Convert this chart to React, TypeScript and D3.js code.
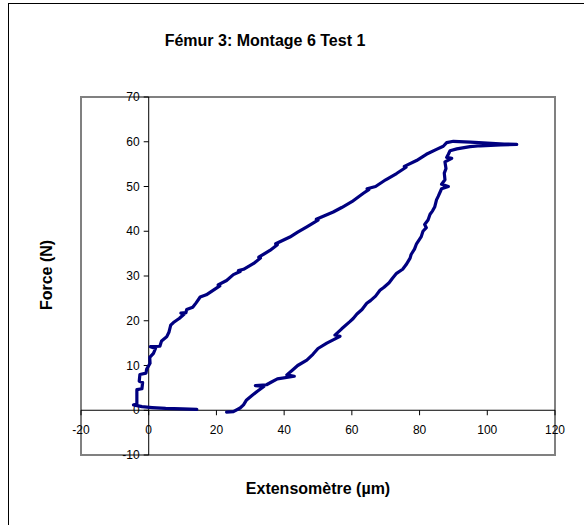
import React from "react";
import * as d3 from "d3";

const title = "Fémur 3: Montage 6 Test 1";
const xTitle = "Extensomètre (µm)";
const yTitle = "Force (N)";
const xTicks = [-20, 0, 20, 40, 60, 80, 100, 120];
const yTicks = [-10, 0, 10, 20, 30, 40, 50, 60, 70];

// Extensometer reading (µm), along the recorded path
const extenso = [
  14.2, 10, 5, 1, -2, -4.5, -3.5, -3.5, -2, -1.8, -2.8, -2.6, -0.8, -0.6, 0.4, 0.3, 1.4, 2, 0.5, 3.3, 3.8,
  5.3, 6, 6.5, 7.3, 9, 10.5, 9.5, 11, 11.2, 13, 14, 15.2, 17, 19, 21, 20.5, 23, 25, 27, 26.5, 28, 31, 33,
  32.5, 35.8, 38, 37.5, 41.7, 44, 46.7, 50, 49.5, 54.5, 57, 60, 63.4, 65, 64.5, 67, 70, 73.2, 76, 75.5,
  79.1, 82, 85, 87, 88, 90, 95, 100, 105, 108.7, 104, 98, 94.9, 91, 89, 88.5, 88, 89.5, 87.5, 87.8, 87.3,
  87.5, 86.5, 88.5, 86.5, 85.5, 85, 84.5, 83.8, 83.1, 82.5, 81.5, 82, 81, 80.5, 79.1, 78.5, 77.5, 77.2, 76,
  75, 73.2, 72, 71, 69.5, 68.3, 67, 65.5, 64.4, 63, 61.5, 60.4, 59.4, 57, 55, 56.5, 52.6, 50, 48.5, 46.7,
  44, 42.5, 40.8, 43, 38, 36, 34.8, 31.5, 34, 32, 30.5, 28.9, 28, 27, 25, 23,
];
// Force (N), same order
const force = [
  0.2, 0.3, 0.4, 0.6, 0.8, 1.2, 1.3, 4.6, 4.8, 6.2, 6.5, 8, 8.3, 9.2, 10.5, 11.8, 12.7, 13.8, 14.2, 14.3, 15.5,
  16.4, 17.5, 19, 19.6, 20.5, 21.5, 21.7, 21.8, 22.5, 23, 24, 25.3, 25.8, 26.8, 27.8, 28, 29, 30.3, 31, 31.2,
  31.5, 32.8, 34, 34.2, 35.7, 37, 37.2, 38.7, 39.8, 41, 42.5, 42.7, 44.3, 45.3, 46.6, 48.5, 49.3, 49.5, 50,
  51.5, 52.9, 54.3, 54.5, 55.8, 57.2, 58.3, 59, 59.8, 60.1, 59.9, 59.7, 59.5, 59.4, 59.3, 59.1, 58.9, 58.4,
  58, 57.2, 56.5, 56.3, 55.5, 54, 53, 51.5, 50.5, 50, 49.5, 47.8, 47, 45.5, 44.5, 43.8, 42.5, 41.5, 40.8,
  40, 38.8, 37.2, 36, 34.8, 34, 32.5, 31.5, 30.6, 29.5, 28.5, 27.5, 26.8, 25.5, 24.5, 23.9, 22.5, 21.5,
  20.5, 19.8, 18.2, 16.8, 16.5, 15, 13.8, 12.5, 11.2, 10, 9, 7.9, 7.6, 7, 6.2, 5.7, 5.5, 5.3, 4.2, 3.3, 2.3,
  1.2, 0.5, -0.3, -0.4,
];

const W = 584;
const H = 525;
const plot = { left: 81, right: 555, top: 97, bottom: 455 };

export default function App() {
  const x = d3.scaleLinear().domain([-20, 120]).range([plot.left, plot.right]);
  const y = d3.scaleLinear().domain([-10, 70]).range([plot.bottom, plot.top]);
  const pts: [number, number][] = extenso.map((e, i) => [e, force[i]]);
  const line = d3
    .line<[number, number]>()
    .x((d) => x(d[0]))
    .y((d) => y(d[1]));
  const x0 = x(0);
  const y0 = y(0);
  const font = "Arial, 'Liberation Sans', Helvetica, sans-serif";
  return (
    <svg
      width={W}
      height={H}
      style={{ position: "absolute", left: 0, top: 0, background: "#fff" }}
      fontFamily={font}
    >
      <rect x={0} y={0} width={W} height={H} fill="#fff" />
      <rect x={8.5} y={3.5} width={700} height={700} fill="none" stroke="#000" strokeWidth={1} />
      <text x={265} y={46} textAnchor="middle" fontWeight="bold" fontSize={16} fill="#000">
        {title}
      </text>
      <rect
        x={plot.left}
        y={plot.top}
        width={plot.right - plot.left}
        height={plot.bottom - plot.top}
        fill="#fff"
        stroke="#808080"
        strokeWidth={2}
      />
      {/* y axis */}
      <line x1={x0} x2={x0} y1={plot.top} y2={plot.bottom} stroke="#000" strokeWidth={1} />
      {yTicks.map((t) => (
        <g key={"y" + t}>
          <line x1={x0 - 5} x2={x0} y1={y(t)} y2={y(t)} stroke="#000" strokeWidth={1} />
          <text x={x0 - 9} y={y(t) + 4} textAnchor="end" fontSize={12} fill="#000">
            {t}
          </text>
        </g>
      ))}
      {/* x axis */}
      <line x1={plot.left} x2={plot.right} y1={y0} y2={y0} stroke="#000" strokeWidth={1} />
      {xTicks.map((t) => (
        <g key={"x" + t}>
          <line x1={x(t)} x2={x(t)} y1={y0} y2={y0 + 5} stroke="#000" strokeWidth={1} />
          <text x={x(t)} y={y0 + 24} textAnchor="middle" fontSize={12} fill="#000">
            {t}
          </text>
        </g>
      ))}
      <path
        d={line(pts) || ""}
        fill="none"
        stroke="#000080"
        strokeWidth={3.2}
        strokeLinejoin="round"
        strokeLinecap="round"
      />
      <text x={318} y={494} textAnchor="middle" fontWeight="bold" fontSize={16} fill="#000">
        {xTitle}
      </text>
      <text
        transform={`translate(52, 275) rotate(-90)`}
        textAnchor="middle"
        fontWeight="bold"
        fontSize={16}
        fill="#000"
      >
        {yTitle}
      </text>
    </svg>
  );
}
